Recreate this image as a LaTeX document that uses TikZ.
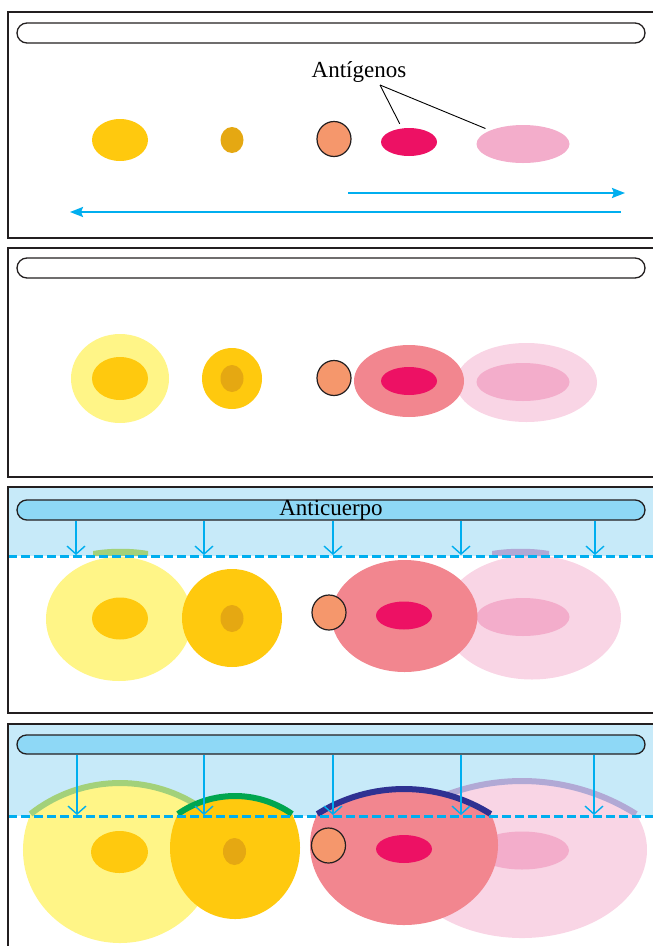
\documentclass[tikz,border=0pt]{standalone}
\usepackage{fontspec}
\setmainfont{Liberation Serif}
\usepackage{tikz}
\usetikzlibrary{
  arrows.meta,
  positioning,
  shapes.geometric,
  shapes.misc
}
\definecolor{framegray}{HTML}{231F20}
\definecolor{cyanline}{HTML}{00AEEF}
\definecolor{buffer}{HTML}{C7EAF9}
\definecolor{tubeblue}{HTML}{8ED8F6}
\definecolor{yellowcore}{HTML}{FFC90E}
\definecolor{yellowhalo}{HTML}{FFF587}
\definecolor{goldcore}{HTML}{E5A812}
\definecolor{orangeag}{HTML}{F5976C}
\definecolor{magentacore}{HTML}{ED1164}
\definecolor{magentahalo}{HTML}{F2868F}
\definecolor{pinkcore}{HTML}{F3ADCB}
\definecolor{pinkhalo}{HTML}{F9D5E5}
\definecolor{bandlight}{HTML}{A3D17A}
\definecolor{banddark}{HTML}{00A650}
\definecolor{bandnavy}{HTML}{2E3192}
\definecolor{bandlav}{HTML}{B1A9D5}
\tikzset{
  panelframe/.style={draw=framegray, line width=2.5pt},
  tubebox/.style={
    rounded rectangle, draw=framegray, fill=#1, line width=1.3pt,
    minimum width=628pt, minimum height=20pt, inner sep=0pt
  },
  blob/.style={ellipse, fill=#1, draw=none, inner sep=0pt},
  sz/.style 2 args={minimum width=#1pt, minimum height=#2pt},
  ag/.style={
    ellipse, fill=orangeag, draw=framegray, line width=1.2pt,
    inner sep=0pt, minimum width=34pt, minimum height=35pt
  },
  migr/.style={
    -{Stealth[length=13pt,width=10pt,inset=2pt]}, line width=2.2pt, color=cyanline
  },
  bind/.style={
    -{Straight Barb[length=8pt,width=18pt]}, line width=1.4pt, color=cyanline
  },
  front/.style={cyanline, line width=3pt, dash pattern=on 8.5pt off 4.5pt},
  band/.style={line width=6pt, color=#1},
  leader/.style={line width=0.9pt, black, shorten >=5pt},
  lbl/.style={font=\fontsize{23}{27}\selectfont, inner sep=0pt},
}
% cell cut at the front (y=814) and capped by a circular arc
% #1 xc, #2 yc, #3 rx, #4 ry, #5 y of the peak
\newcommand\capsetup[5]{%
  \pgfmathsetmacro\capang{asin((814-#2)/#4)}%
  \pgfmathsetmacro\caphw{#3*cos(\capang)}%
  \pgfmathsetmacro\caph{814-#5}%
  \pgfmathsetmacro\capr{(\caphw*\caphw+\caph*\caph)/(2*\caph)}%
  \pgfmathsetmacro\capphi{asin(\caphw/\capr)}}
% colour, band colour, xc, yc, rx, ry, y of the peak
\newcommand\cellfill[7]{%
  \capsetup{#3}{#4}{#5}{#6}{#7}%
  \fill[#1] (#3-\caphw,814) arc[start angle=270-\capphi, end angle=270+\capphi, radius=\capr]
    arc[start angle=\capang, end angle=180-\capang, x radius=#5, y radius=#6] -- cycle;
  \draw[band=#2] (#3-\caphw,814) arc[start angle=270-\capphi, end angle=270+\capphi, radius=\capr];}

\begin{document}
\begin{tikzpicture}[x=1pt, y=-1pt]
  \useasboundingbox (0,0) rectangle (653,946);
  \clip (0,0) rectangle (653,946);

  %% ── Panel 1: antigens alone ──────────────────────────────────────────────
  \node[tubebox=white] (tube1) at (331,33) {};
  \node[blob=yellowcore, sz={56}{42}]  (ag1) at (120,140) {};
  \node[blob=goldcore, sz={23}{26}]    (ag2) at (232,140) {};
  \node[ag]                            (ag3) at (334,139) {};
  \node[blob=magentacore, sz={56}{28}] (ag4) at (409,142) {};
  \node[blob=pinkcore, sz={93}{38}]    (ag5) at (523,144) {};

  \node[lbl] (antlbl) at (359,72) {Antígenos};
  \coordinate (antpt) at (380,85);
  \draw[leader] (antpt) -- (ag4);
  \draw[leader] (antpt) -- (ag5);

  \coordinate (fwd0) at (348,193);
  \coordinate (fwd1) at (625,193);
  \coordinate (rev0) at (621,212);
  \coordinate (rev1) at (70,212);
  \draw[migr] (fwd0) -- (fwd1);
  \draw[migr] (rev0) -- (rev1);

  \draw[panelframe] (8,12) rectangle (670,238);

  %% ── Panel 2: antigens spread out ─────────────────────────────────────────
  \node[tubebox=white] (tube2) at (331,268) {};
  \node[blob=pinkhalo, sz={141}{79}]    (h25) at (526.5,382.5) {};
  \node[blob=pinkcore, sz={93}{38}]     (c25) at (523,382) {};
  \node[blob=magentahalo, sz={110}{72}] (h24) at (409,381) {};
  \node[blob=magentacore, sz={56}{28}]  (c24) at (409,381) {};
  \node[ag]                             (c23) at (334,378) {};
  \node[blob=yellowhalo, sz={98}{89}]   (h21) at (120,378.5) {};
  \node[blob=yellowcore, sz={56}{43}]   (c21) at (120,378.5) {};
  \node[blob=yellowcore, sz={60}{61}]   (h22) at (232,378.5) {};
  \node[blob=goldcore, sz={23}{27}]     (c22) at (232,378.5) {};

  \draw[panelframe] (8,248) rectangle (670,477);

  %% ── Panel 3: antibody added ──────────────────────────────────────────────
  \fill[buffer] (8,487) rectangle (670,556);
  \node[blob=pinkhalo, sz={178}{124}]    (h35) at (532,617.5) {};
  \node[blob=pinkcore, sz={93}{38}]      (c35) at (523,617) {};
  \node[blob=magentahalo, sz={146}{112}] (h34) at (404.5,616) {};
  \node[blob=magentacore, sz={56}{28}]   (c34) at (404,615.5) {};
  \node[ag]                              (c33) at (329,612.5) {};
  \node[blob=yellowhalo, sz={146}{124}]  (h31) at (119,619) {};
  \node[blob=yellowcore, sz={56}{42}]    (c31) at (120,618.5) {};
  \node[blob=yellowcore, sz={100}{98}]   (h32) at (232,618) {};
  \node[blob=goldcore, sz={23}{27}]      (c32) at (232,618.5) {};

  \fill[bandlight] (93,556) -- (93,551) .. controls (110,548) and (131,548) .. (148,551) -- (148,556) -- cycle;
  \fill[bandlav] (492,556) -- (492,551) .. controls (509,548) and (532,548) .. (549,551) -- (549,556) -- cycle;
  \draw[front] (8,556) -- (670,556);

  \node[tubebox=tubeblue, lbl] (tube3) at (331,510) {Anticuerpo};
  \coordinate (s31) at (76,555);
  \coordinate (s32) at (204,555);
  \coordinate (s33) at (333,555);
  \coordinate (s34) at (461,555);
  \coordinate (s35) at (595,555);
  \draw[bind] (s31 |- tube3.south) -- (s31);
  \draw[bind] (s32 |- tube3.south) -- (s32);
  \draw[bind] (s33 |- tube3.south) -- (s33);
  \draw[bind] (s34 |- tube3.south) -- (s34);
  \draw[bind] (s35 |- tube3.south) -- (s35);

  \draw[panelframe] (8,487) rectangle (670,713);

  %% ── Panel 4: precipitin arcs ─────────────────────────────────────────────
  \fill[buffer] (8,724) rectangle (670,816);
  \cellfill{pinkhalo}{bandlav}{522}{850}{125}{88}{781}
  \node[blob=pinkcore, sz={94}{38}]     (c45) at (522,850.5) {};
  \cellfill{magentahalo}{bandnavy}{404}{845}{94}{80}{789}
  \node[blob=magentacore, sz={56}{28}]  (c44) at (404,849) {};
  \node[ag]                             (c43) at (328.5,845.5) {};
  \cellfill{yellowhalo}{bandlight}{120}{850}{97}{93}{783}
  \node[blob=yellowcore, sz={57}{42}]   (c41) at (119.5,852) {};
  \cellfill{yellowcore}{banddark}{235}{848}{65}{71}{796}
  \node[blob=goldcore, sz={23}{27}]     (c42) at (234.5,851.5) {};

  \draw[front] (8,816) -- (670,816);

  \node[tubebox=tubeblue, minimum height=19pt] (tube4) at (331,744.5) {};
  \coordinate (s41) at (77,815);
  \coordinate (s42) at (204,815);
  \coordinate (s43) at (333,815);
  \coordinate (s44) at (461,815);
  \coordinate (s45) at (594,815);
  \draw[bind] (s41 |- tube4.south) -- (s41);
  \draw[bind] (s42 |- tube4.south) -- (s42);
  \draw[bind] (s43 |- tube4.south) -- (s43);
  \draw[bind] (s44 |- tube4.south) -- (s44);
  \draw[bind] (s45 |- tube4.south) -- (s45);

  \draw[panelframe] (8,724) rectangle (670,960);

\end{tikzpicture}
\end{document}
